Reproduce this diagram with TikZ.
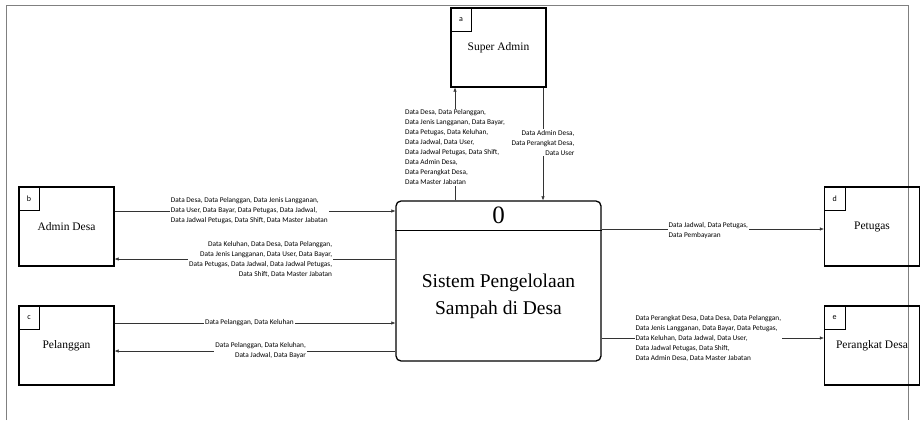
\documentclass[tikz,border=0pt]{standalone}
\usepackage{fontspec}
\setmainfont{Liberation Serif}
\newfontfamily\flowfont{Carlito}
\usetikzlibrary{arrows.meta,calc}

\begin{document}
\begin{tikzpicture}[x=1pt,y=-1pt,
        entity/.style={draw,line width=1.3pt,minimum width=95pt,minimum height=79pt,inner sep=0pt,font=\fontsize{11.5}{13}\selectfont},
        cornertag/.style={draw,line width=0.5pt,anchor=north west,minimum width=21pt,minimum height=24pt,inner sep=0pt,font=\flowfont\fontsize{8}{9}\selectfont},
        proc/.style={draw,line width=1.3pt,rounded corners=5pt,minimum width=205pt,minimum height=160pt},
        flow/.style={draw=black!80,line width=0.5pt,-{Latex[length=4pt,width=3.5pt]}},
        lbl/.style={fill=white,inner sep=1pt,font=\flowfont\fontsize{7.3}{10}\selectfont}]
        \useasboundingbox (0,0) rectangle (920,420);
        \draw [black!50,line width=0.8pt] (6,420) -- (6,5) -- (908,5) -- (908,420);
        \node [entity] (sadmin) at (498.5,47.5) {Super Admin};
        \node [cornertag] (taga) at (sadmin.north west) {a};
        \node [entity] (adesa) at (66.5,226.5) {Admin Desa};
        \node [cornertag] (tagb) at (adesa.north west) {b};
        \node [entity] (plg) at (66.5,345.5) {Pelanggan};
        \node [cornertag] (tagc) at (plg.north west) {c};
        \node [entity] (ptg) at (872,226.5) {Petugas};
        \node [cornertag] (tagd) at (ptg.north west) {d};
        \node [entity] (pdesa) at (872,345.5) {Perangkat Desa};
        \node [cornertag] (tage) at (pdesa.north west) {e};
        \node [proc] (proc) at (498.5,281) {};
        \draw [line width=1.3pt] ([yshift=-30pt]proc.north west) -- ([yshift=-30pt]proc.north east);
        \node [font=\fontsize{25}{25}\selectfont] (pnum) at ($(proc.north)!0.5!([yshift=-30pt]proc.north)$) {0};
        \node [align=center,font=\fontsize{19.5}{27}\selectfont] (pname) at ([yshift=-15.5pt]proc.center) {Sistem Pengelolaan\\Sampah di Desa};
        \draw [flow] ([xshift=-43.5pt]proc.north) -- node [lbl,align=left,pos=0.47] {Data Desa, Data Pelanggan,\\Data Jenis Langganan, Data Bayar,\\Data Petugas, Data Keluhan,\\Data Jadwal, Data User,\\Data Jadwal Petugas, Data Shift,\\Data Admin Desa,\\Data Perangkat Desa,\\Data Master Jabatan} ([xshift=-43.5pt]proc.north |- sadmin.south);
        \draw [flow] ([xshift=44.5pt]sadmin.south) -- node [lbl,align=right,pos=0.49] {Data Admin Desa,\\Data Perangkat Desa,\\Data User} ([xshift=44.5pt]sadmin.south |- proc.north);
        \draw [flow] ([yshift=15.5pt]adesa.east) -- node [lbl,align=left,pos=0.48] {Data Desa, Data Pelanggan, Data Jenis Langganan,\\Data User, Data Bayar, Data Petugas, Data Jadwal,\\Data Jadwal Petugas, Data Shift, Data Master Jabatan} ([yshift=15.5pt]adesa.east -| proc.west);
        \draw [flow] ([yshift=-32.5pt]adesa.east -| proc.west) -- node [lbl,align=right,pos=0.48] {Data Keluhan, Data Desa, Data Pelanggan,\\Data Jenis Langganan, Data User, Data Bayar,\\Data Petugas, Data Jadwal, Data Jadwal Petugas,\\Data Shift, Data Master Jabatan} ([yshift=-32.5pt]adesa.east);
        \draw [flow] ([yshift=22.5pt]plg.east) -- node [lbl,pos=0.48] {Data Pelanggan, Data Keluhan} ([yshift=22.5pt]plg.east -| proc.west);
        \draw [flow] ([yshift=-5.5pt]plg.east -| proc.west) -- node [lbl,align=right,pos=0.48] {Data Pelanggan, Data Keluhan,\\Data Jadwal, Data Bayar} ([yshift=-5.5pt]plg.east);
        \draw [flow] ([yshift=-2.5pt]ptg.west -| proc.east) -- node [lbl,align=left,pos=0.48,yshift=-2pt] {Data Jadwal, Data Petugas,\\Data Pembayaran} ([yshift=-2.5pt]ptg.west);
        \draw [flow] ([yshift=7.5pt]pdesa.west -| proc.east) -- node [lbl,align=left,pos=0.48] {Data Perangkat Desa, Data Desa, Data Pelanggan,\\Data Jenis Langganan, Data Bayar, Data Petugas,\\Data Keluhan, Data Jadwal, Data User,\\Data Jadwal Petugas, Data Shift,\\Data Admin Desa, Data Master Jabatan} ([yshift=7.5pt]pdesa.west);
\end{tikzpicture}
\end{document}
